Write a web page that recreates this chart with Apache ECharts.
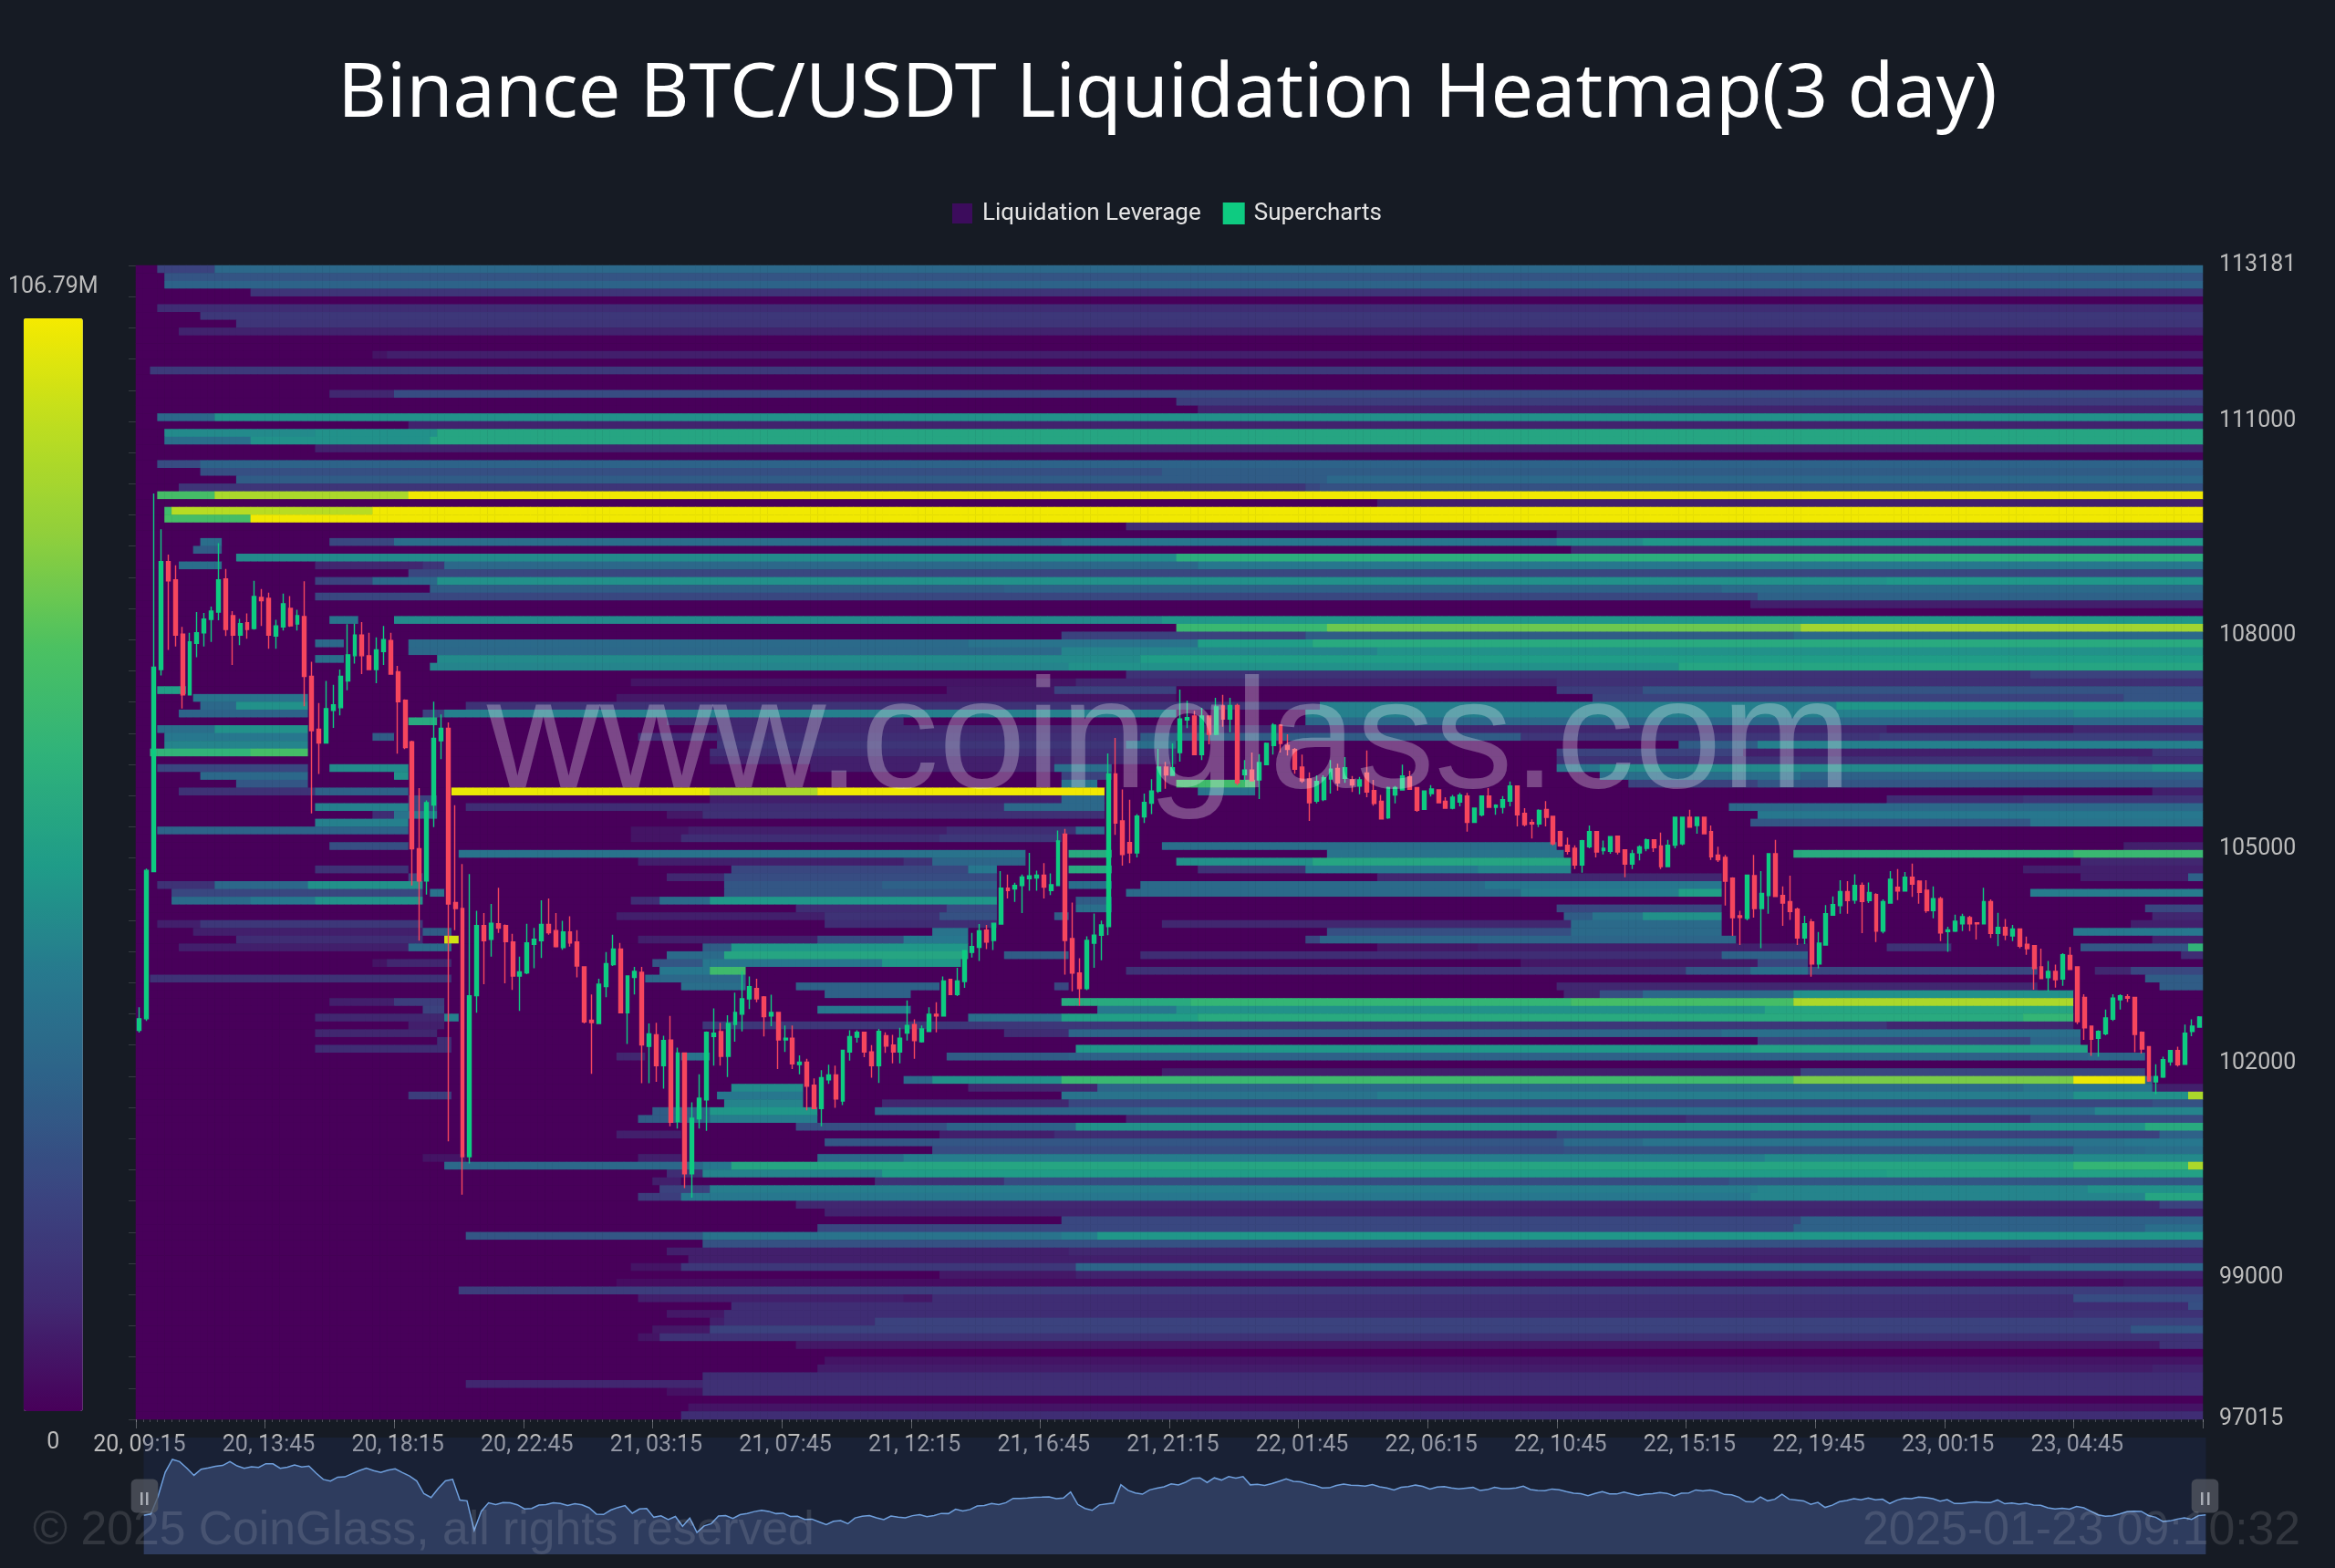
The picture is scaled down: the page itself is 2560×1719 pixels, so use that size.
<!DOCTYPE html>
<html><head><meta charset="utf-8">
<style>html,body{margin:0;padding:0;background:#161b24}#c{width:2560px;height:1719px}</style>
<script src="https://cdn.jsdelivr.net/npm/echarts@6/dist/echarts.min.js"></script>
</head><body><div id="c"></div>
<script>
const legendNames = ['Liquidation Leverage', 'Supercharts'];
const priceTicks = [97015, 99000, 102000, 105000, 108000, 111000, 113181];
const priceMin = 97015, priceMax = 113181, maxLeverage = 106.79, candleCount = 288, rowCount = 148;
const colorStops = ['#48005a','#402a72','#3a4580','#2e6188','#27798e','#1f9c88','#2fb27a','#4cc161','#8fcf3c','#bcdd20','#f5ea00'];

// Each liquidation row from the top of the chart: [startCandle, leverage(M), startCandle, leverage(M), ...]
const heatRows = [
[3,20,11,35],[4,27],[4,33],[16,15],[],[3,12],[9,16],[14,15],[6,9],[],[],[33,5,35,8],[],[2,17],[],[],
[27,10,36,24],[145,18],[148,9],[3,35,11,50],[38,9],[4,48,25,50,42,58],[4,38,16,50,41,58],[25,9],[],
[3,24,9,33],[9,25,143,30],[14,30,166,35],[6,15,163,22,165,26],[3,72,11,92,38,106],[173,8],[4,70,5,95,33,106],[4,72,16,106],
[138,12],[198,7],[9,38,12,0,27,22,36,38,129,42,198,48,210,52],[8,30,12,0,200,10],
[14,48,145,62],[6,38,12,0,25,10,40,15,43,35,148,42],[38,22],[25,20,33,35,42,50,244,52],[41,30,121,32,221,36],[25,22,226,32],[225,8],[],
[27,40,31,0,36,48,143,52],[145,68,166,80,232,90],[129,20,163,30,231,35],[25,35,29,0,38,36,116,40,148,54,164,60],[38,35,129,46,173,50],
[25,38,29,0,42,48,140,54],[41,46,130,50,215,58],[138,14,264,20],[69,5,131,10,198,13],[3,55,7,0,113,6,128,20,145,0,198,18,210,27],
[8,40,24,0,67,6,145,0,203,20,277,27],[9,35,14,50,24,0,46,14,165,45,237,52],[6,33,24,0,40,20,43,45,145,0,163,45,270,48],
[38,60,42,0,74,10,107,0,163,35],[3,38,11,50,24,0,81,10,244,6,270,10],[4,42,24,0,33,30,36,0,70,12,140,30,193,15,243,18],
[4,46,24,0,81,15,138,38,145,0,215,30,226,45],[2,65,16,72,24,0,80,12,145,0,198,20,224,8,281,15],[80,8,128,10,145,0,198,14,279,12],
[3,22,24,0,27,48,38,0,94,8,128,38,136,0,198,40,204,48,281,52],[9,35,24,0,36,50,38,0,129,20,136,0,204,38,232,32],
[14,28,24,0,129,40,134,0,145,70,156,0,208,20,226,28],[6,14,25,32,38,0,44,105,80,92,95,106,135,0,148,40,156,0,281,8],
[38,20,42,0,80,8,129,35,135,0,244,12,263,15],[25,45,38,20,42,0,46,12,121,35,135,0,222,35],[33,12,36,40,42,0,74,6,79,13,135,0,226,42],
[25,45,38,0,225,28,264,40],[3,33,38,0,69,5,77,8,113,12,131,35,135,0],[69,5,76,12,112,16,129,0],[27,25,38,0,143,38,198,0,277,8],
[45,40,124,0,130,60,136,0,166,40,199,0,231,60,270,68],[70,8,107,14,111,34,124,0,145,50,164,58,200,0,271,10],
[25,14,38,0,83,22,116,42,120,0,130,60,136,0,148,14,163,42,187,46,200,0,263,8],[38,20,40,0,74,10,82,24,120,0,173,10,221,0,271,8,286,32],
[3,14,11,35,24,50,40,0,82,28,104,32,120,0,130,38,136,0,140,36,188,42,221,0],[5,22,40,0,41,40,43,0,82,28,120,0,138,36,193,44,215,55,221,0,264,44],
[5,36,16,42,25,50,40,0,69,12,73,36,80,52,120,0,131,30,136,0],[92,12,113,24,120,0,131,38,136,0,198,22,221,0,280,22],
[67,8,96,14,112,26,120,0,128,30,130,0,199,30,203,40,210,50,221,0,281,10],[3,8,9,16,40,0,96,12,120,0,143,10,200,36,221,0,278,8],
[8,8,40,30,44,0,111,40,116,0,166,25,200,36,221,0,270,42],[14,12,40,0,43,100,45,0,70,8,95,24,107,42,116,0,163,22,165,34,223,0,281,8],
[6,8,38,35,44,0,79,30,83,52,116,0,173,6,187,8,233,0,244,14,253,0,271,28,286,65],[74,36,82,58,116,0,121,30,130,0,140,12,221,32,233,0,285,12],
[33,5,35,10,44,0,72,28,79,42,104,52,115,0,193,6,226,22,233,0],[73,42,80,70,85,0,138,14,216,28,225,38,233,22,265,0,273,10,278,22],
[2,14,44,0,71,35,85,0,280,30],[76,38,85,0,92,32,112,0,128,22,130,0,198,10,265,0,282,30],[96,32,108,0,199,10,204,25,210,35,231,50,270,0],
[27,8,36,18,43,0,129,60,147,66,200,72,231,92,270,0],[40,20,43,0,95,42,108,0,134,42,145,50,227,58,270,0],
[25,10,43,45,45,0,116,38,129,55,148,60,263,66,270,0],[38,8,43,0,79,16,244,10,270,0],[25,10,42,0,121,12,130,34,221,38,271,0],
[42,12,44,0,226,20,264,34,271,0],[25,12,44,0,131,52,225,56,272,0],[67,10,71,0,76,40,80,0,113,30,130,32,272,34,280,0],[],
[143,8,232,22,280,0],[107,35,111,50,129,68,165,70,231,82,270,105,280,34,281,0],[83,48,93,0,116,10,134,34,164,36,263,40,281,8],
[38,18,44,0,81,42,93,0,129,40,173,44,270,50,286,92],[82,46,93,0,104,10,130,22,281,26],[72,30,80,52,95,0,103,34,140,38,273,46],
[70,30,80,44,95,0,138,10,216,14,264,24],[92,25,113,33,131,50,280,60],[67,8,76,0,112,8,128,12,198,20,282,32],
[96,28,199,36,210,40,277,42],[111,24,199,26,270,36,280,38],[40,5,46,0,70,8,76,0,95,36,107,44,227,48],[43,35,79,42,83,58,270,66,286,92],
[74,12,79,46,104,54,244,56],[72,8,76,0,103,14,121,24,222,28],[73,20,80,44,226,46,272,50],[70,18,76,42,225,46,280,58],[92,10,282,20],[96,9],
[129,22,232,32],[95,22,231,32,280,38],[46,28,79,40,129,44,134,52],[79,26],[74,8,130,10],[77,8,264,10],[69,5,76,16,131,34],[112,6,131,9],
[67,3,277,5],[45,18],[70,8,107,6,111,12,270,24],[83,12,286,25],[74,6,82,12,270,14],[80,8,82,12,103,20],[72,6,80,20,278,28],[70,5,73,14],
[92,6,282,14],[],[96,5],[95,7,281,9],[79,12],[46,10,79,13],[74,4,79,13],[],[77,5],[76,12]
];

// Candles, one per 15 minutes: [open, close, low, high]
const candles = [
[102466,102627,102434,102788],[102627,104706,102595,104732],[104687,107552,104687,109985],[107520,109033,107436,109483],[109033,108762,107796,109129],[108775,108002,107841,108981],
[108015,107165,106972,108118],[107165,107906,107165,108035],[107887,108035,107693,108324],[108035,108228,107841,108311],[108221,108337,107906,108402],[108324,108775,108209,109290],
[108788,108080,107990,108930],[108273,108002,107584,108337],[108002,108163,107861,108228],[108176,108080,107951,108305],[108093,108543,108080,108762],[108530,108485,108131,108646],
[108517,108002,107809,108595],[107990,108131,107809,108215],[108118,108440,108067,108582],[108376,108131,108118,108550],[108157,108273,108067,108357],[108260,107423,107004,108756],
[107423,106663,105504,107629],[106683,106490,106058,107050],[106490,106972,106490,107359],[106947,107024,106702,107307],[106985,107423,106876,107520],[107359,107726,107230,108157],
[107713,108002,107603,108163],[108002,107713,107455,108183],[107713,107520,107520,108035],[107520,107796,107327,107970],[107771,107938,107584,108131],[107925,107455,107455,108035],
[107487,107069,106341,107571],[107088,106425,106406,107101],[106509,105009,104494,106522],[105009,104558,103721,105859],[104558,105653,104365,105685],[105620,106554,105311,107069],
[106522,106696,106264,106889],[106696,104236,100908,106779],[104256,104172,103869,105620],[104172,100695,100161,104796],[100695,102949,100599,104655],[102949,103934,102710,104140],
[103934,103721,103110,104108],[103740,103966,103496,104236],[103959,103895,103831,104462],[103934,103708,103122,103947],[103702,103226,103032,103818],[103226,103283,102736,103496],
[103270,103689,103251,103959],[103670,103740,103335,103901],[103721,103947,103477,104288],[103947,103831,103805,104313],[103863,103637,103625,104108],[103625,103843,103592,103998],
[103843,103689,103637,104062],[103702,103367,103206,103869],[103354,102582,102560,103360],[102607,102575,101854,102968],[102562,103110,102555,103187],[103077,103399,102929,103560],
[103386,103605,103367,103805],[103605,102710,102710,103689],[102710,103226,102273,103226],[103206,103290,102968,103354],[103277,102260,101725,103354],[102240,102414,101725,102562],
[102402,101970,101744,102571],[101970,102321,101648,102388],[102330,101176,101119,102667],[101186,102148,101090,102224],[102148,100455,100253,102148],[100455,101234,100119,101455],
[101224,101513,101090,101849],[101489,102436,101056,102450],[102378,102426,101970,102773],[102446,102100,101970,102571],[102100,102561,101811,102676],[102547,102715,102306,102994],
[102691,102907,102450,103292],[102907,103075,102763,103220],[103051,102907,102859,103186],[102931,102657,102378,102946],[102667,102715,102523,102965],[102715,102330,101922,102715],
[102330,102354,102162,102532],[102354,101994,101922,102532],[101984,102018,101849,102114],[102018,101681,101345,102066],[101695,101369,101359,101792],[101369,101801,101119,101907],
[101773,101840,101715,101984],[101840,101503,101378,101970],[101474,102186,101417,102186],[102162,102378,102042,102465],[102369,102436,102292,102465],[102436,102162,102090,102436],
[102162,101970,101801,102258],[101970,102450,101729,102484],[102388,102244,102148,102436],[102258,102162,102003,102402],[102162,102354,102003,102499],[102426,102532,102321,102883],
[102547,102321,102066,102619],[102306,102484,102292,102532],[102450,102691,102450,102787],[102691,102667,102436,102859],[102667,103157,102667,103220],[103177,102965,102965,103186],
[102965,103157,102946,103340],[103148,103580,103061,103580],[103556,103638,103484,103830],[103628,103859,103436,103955],[103869,103700,103604,103941],[103725,103965,103590,103975],
[103955,104455,103955,104696],[104455,104422,104311,104648],[104446,104494,104263,104532],[104494,104614,104109,104648],[104590,104629,104422,104951],[104600,104638,104422,104701],
[104638,104470,104311,104806],[104422,104504,104359,104662],[104494,105119,104494,105263],[105215,103725,103244,105287],[103749,103268,103013,104253],[103268,103051,102811,103475],
[103051,103725,103027,103782],[103686,103797,103340,104100],[103797,103941,103446,104003],[103917,106056,103797,106345],[106056,105369,105205,106561],[105398,104927,104773,105840],
[105095,104951,104806,105696],[104951,105465,104888,105494],[105455,105657,105369,105782],[105648,105816,105494,105984],[105816,106153,105792,106407],[106153,106042,105850,106225],
[106037,106144,106029,106485],[106357,106826,106229,107239],[106813,106847,106698,107081],[106868,106327,106327,106941],[106327,106868,106250,106983],[106868,106612,106472,106868],
[106612,106996,106600,107124],[107009,106826,106719,107166],[106826,107017,106642,107124],[107017,105931,105901,107039],[106046,106110,105952,106250],[106110,105961,105952,106357],
[105973,106216,105705,106336],[106186,106485,106186,106497],[106455,106740,106327,106770],[106740,106485,106357,106753],[106455,106400,106314,106612],[106400,106123,106059,106421],
[106152,105961,105931,106327],[105986,105654,105398,106080],[105675,105952,105645,106037],[105697,106003,105675,106037],[105986,106123,105782,106250],[106135,105931,105824,106199],
[105995,106144,105931,106293],[105973,105901,105803,106029],[105888,105973,105773,106016],[106071,105803,105731,106387],[105824,105645,105611,105973],[105675,105428,105428,105761],
[105441,105867,105428,105876],[105761,105867,105645,105888],[105833,106029,105824,106186],[106016,105841,105833,106101],[105867,105547,105526,105867],[105560,105816,105560,105824],
[105782,105846,105739,105901],[105833,105654,105645,105833],[105675,105577,105569,105731],[105577,105731,105560,105761],[105663,105761,105603,105790],[105748,105377,105249,105790],
[105377,105577,105377,105577],[105484,105748,105462,105748],[105748,105590,105590,105858],[105590,105620,105484,105633],[105590,105697,105505,105748],[105675,105888,105603,105952],
[105888,105484,105322,105888],[105505,105347,105322,105577],[105377,105356,105151,105420],[105356,105547,105313,105560],[105560,105449,105322,105675],[105462,105079,105058,105462],
[105249,105049,105036,105262],[105058,104972,104930,105164],[105015,104781,104725,105058],[104781,105122,104674,105134],[105036,105249,105015,105335],[105249,104964,104887,105249],
[104981,105015,104930,105122],[104972,105177,104938,105185],[105185,104964,104930,105185],[104994,104794,104610,104994],[104794,104938,104725,104994],[104951,105036,104845,105058],
[105015,105134,104972,105151],[105134,105024,104964,105134],[105049,104760,104725,105236],[104760,105058,104760,105134],[105058,105449,105015,105449],[105079,105449,105058,105449],
[105449,105313,105313,105555],[105334,105449,105219,105449],[105449,105219,105219,105449],[105249,104895,104853,105334],[104921,104853,104823,105036],[104887,104554,104214,104921],
[104597,104043,103787,104610],[104069,104047,103660,104141],[104035,104640,104005,104644],[104631,104171,104043,104921],[104171,104384,103617,104695],[104354,104938,104099,104938],
[104938,104341,104333,105134],[104354,104248,103928,104482],[104269,104128,104013,104631],[104162,103758,103660,104184],[103758,103958,103672,104069],[103983,103396,103217,104026],
[103396,103685,103332,103843],[103660,104099,103651,104218],[104077,104226,104069,104341],[104213,104409,104099,104567],[104409,104282,104099,104554],[104290,104495,104239,104652],
[104495,104269,103826,104537],[104282,104397,104248,104537],[104367,103856,103702,104384],[103856,104269,103822,104299],[104248,104580,104239,104695],[104469,104418,104290,104725],
[104418,104610,104410,104682],[104610,104512,104333,104801],[104554,104397,104239,104567],[104427,104141,104111,104567],[104141,104311,104035,104482],[104311,103830,103715,104333],
[103847,103873,103566,103915],[103856,103992,103843,104086],[103958,104056,103856,104099],[104043,103958,103856,104069],[103971,103958,103736,103971],[103958,104269,103949,104461],
[104269,103822,103758,104299],[103822,103907,103643,104111],[103907,103800,103728,104026],[103788,103886,103715,103941],[103886,103643,103617,103886],[103672,103609,103523,103779],
[103651,103332,103033,103651],[103353,103191,103183,103609],[103204,103289,103012,103438],[103289,103174,103063,103387],[103183,103523,103089,103545],[103515,103319,103310,103630],
[103353,102586,102552,103361],[102927,102501,102331,102970],[102522,102339,102109,102522],[102352,102450,102096,102467],[102416,102637,102394,102757],[102620,102918,102595,102970],
[102893,102948,102757,102970],[102935,102914,102863,102970],[102927,102407,102160,102935],[102437,102203,102139,102450],[102237,101755,101743,102237],[101743,101819,101572,101990],
[101811,102054,101798,102096],[102024,102182,101969,102182],[102182,101981,101956,102237],[101990,102424,101990,102544],[102450,102522,102382,102620],[102510,102650,102501,102663]
];

// Time labels: 15-minute steps from "20, 09:15"
const timeLabels = [];
{ let d = 20, m = 9 * 60 + 15;
  for (let i = 0; i < candleCount; i++) {
    timeLabels.push(d + ', ' + String(Math.floor(m / 60)).padStart(2, '0') + ':' + String(m % 60).padStart(2, '0'));
    m += 15; if (m >= 1440) { m -= 1440; d++; }
  } }
const rowLabels = heatRows.map((_, i) => String(i));

// expand the run lists into heatmap cells
const heatData = [];
heatRows.forEach((runs, r) => {
  let v = 0, next = 0;
  for (let c = 0; c < candleCount; c++) {
    while (next < runs.length && runs[next] <= c) { v = runs[next + 1]; next += 2; }
    heatData.push([c, r, v]);
  }
});

const FONT = 'Roboto, sans-serif';
const chart = echarts.init(document.getElementById('c'), null, { renderer: 'canvas' });
const pauseBar = (x) => ({ type: 'rect', z: 60, silent: true, shape: { x: x, y: 1636, width: 2.5, height: 14 }, style: { fill: '#a9adb5' } });
chart.setOption({
  animation: false,
  backgroundColor: '#161b24',
  title: { text: 'Binance BTC/USDT Liquidation Heatmap(3 day)', left: 'center', top: 58,
    textStyle: { color: '#ffffff', fontFamily: '"Noto Sans", sans-serif', fontSize: 82.7, fontWeight: 'normal' } },
  legend: { top: 216, left: 1039, itemWidth: 22, itemHeight: 22, itemGap: 24,
    textStyle: { color: '#e4e4e4', fontFamily: FONT, fontSize: 26, padding: [0, 0, 0, 6] },
    selectedMode: false,
    data: [ { name: legendNames[0], icon: 'rect', itemStyle: { color: '#3c0c5c' } },
            { name: legendNames[1], icon: 'rect', itemStyle: { color: '#0ecb81' } } ] },
  grid: { left: 149, right: 145, top: 291, height: 1265, containLabel: false },
  xAxis: [
    { type: 'category', data: timeLabels, boundaryGap: true,
      axisLine: { show: false },
      axisTick: { show: true, interval: 17, length: 10, lineStyle: { color: 'rgba(255,255,255,0.3)' } },
      axisLabel: { interval: 17, color: '#bcbcbc', fontFamily: FONT, fontSize: 25, margin: 16, hideOverlap: false },
      splitLine: { show: false } },
    { type: 'category', data: timeLabels, position: 'bottom', boundaryGap: true,
      axisLine: { show: false }, axisLabel: { show: false }, splitLine: { show: false },
      axisTick: { show: true, interval: 0, length: 3, lineStyle: { color: 'rgba(255,255,255,0.22)' } } }
  ],
  yAxis: [
    { type: 'category', data: rowLabels, inverse: true, position: 'left',
      axisLine: { show: false }, axisLabel: { show: false }, splitLine: { show: false },
      axisTick: { show: true, interval: 3, length: 8, lineStyle: { color: 'rgba(255,255,255,0.14)' } } },
    { type: 'value', min: priceMin, max: priceMax, position: 'right', scale: true,
      axisLine: { show: false }, axisTick: { show: false }, splitLine: { show: false },
      axisLabel: { customValues: priceTicks, color: '#bcbcbc', fontFamily: FONT, fontSize: 25, margin: 18, padding: [3, 0, 0, 0],
        formatter: v => String(v) } }
  ],
  visualMap: { type: 'continuous', seriesIndex: 0, min: 0, max: maxLeverage, calculable: false,
    left: -6, top: 287, itemWidth: 65, itemHeight: 1198, textGap: 22,
    text: ['106.79M', '0'], textStyle: { color: '#bcbcbc', fontFamily: FONT, fontSize: 25 },
    inRange: { color: colorStops } },
  dataZoom: [ { type: 'slider', xAxisIndex: 0, start: 0, end: 100, filterMode: 'none',
    left: 155, right: 144, top: 1576, height: 128, showDetail: false, brushSelect: false,
    backgroundColor: 'rgba(36,50,98,0.28)', borderColor: 'transparent', fillerColor: 'transparent',
    dataBackground: { lineStyle: { color: '#6f9fdc', width: 1.5, opacity: 1 }, areaStyle: { color: '#2e3c5e', opacity: 1 } },
    selectedDataBackground: { lineStyle: { color: '#6f9fdc', width: 1.5, opacity: 1 }, areaStyle: { color: '#2e3c5e', opacity: 1 } },
    moveHandleSize: 0,
    handleIcon: 'path://M3,0 H13 A3,3 0 0 1 16,3 V17 A3,3 0 0 1 13,20 H3 A3,3 0 0 1 0,17 V3 A3,3 0 0 1 3,0 Z',
    handleSize: 37, handleStyle: { color: 'rgba(84,88,98,0.75)', borderColor: 'transparent' } } ],
  series: [
    { name: legendNames[0], type: 'heatmap', data: heatData, xAxisIndex: 0, yAxisIndex: 0, z: 1, progressive: 0,
      itemStyle: { color: '#3c0c5c', borderWidth: 0 }, emphasis: { disabled: true } },
    { name: legendNames[1], type: 'candlestick', data: candles, xAxisIndex: 0, yAxisIndex: 1, z: 2, barWidth: 4.4,
      itemStyle: { color: '#0ecb81', color0: '#f6465d', borderColor: '#0ecb81', borderColor0: '#f6465d', borderWidth: 1.4 } }
  ],
  graphic: [
    { type: 'text', z: 50, silent: true, x: 1282, y: 816, style: { text: 'www.coinglass.com', fill: 'rgba(255,255,255,0.28)',
        font: '171.5px "Liberation Sans", sans-serif', textAlign: 'center', textVerticalAlign: 'middle' } },
    { type: 'text', z: 50, silent: true, x: 36, y: 1679, style: { text: '© 2025 CoinGlass, all rights reserved', fill: 'rgba(255,255,255,0.12)',
        font: '51.7px "Liberation Sans", sans-serif', textAlign: 'left', textVerticalAlign: 'middle' } },
    { type: 'text', z: 50, silent: true, x: 2522, y: 1679, style: { text: '2025-01-23 09:10:32', fill: 'rgba(255,255,255,0.12)',
        font: '51.7px "Liberation Sans", sans-serif', textAlign: 'right', textVerticalAlign: 'middle' } },
    pauseBar(154), pauseBar(160), pauseBar(2413), pauseBar(2420)
  ]
});
</script></body></html>
